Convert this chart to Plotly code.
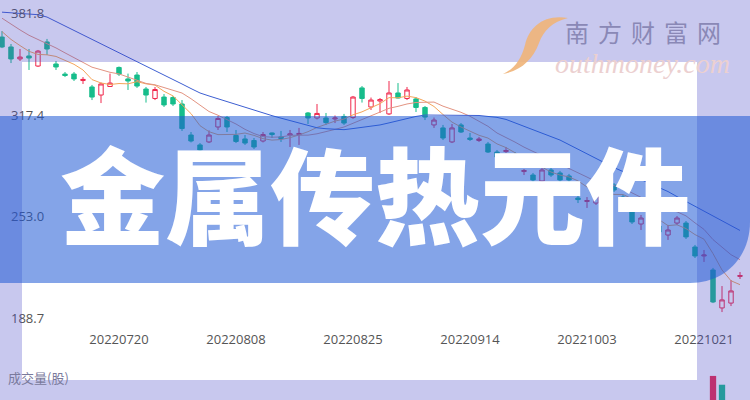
import plotly.graph_objects as go
import pandas as pd

# ---------------- data ----------------
dates = [
    "20220701", "20220704", "20220705", "20220706", "20220707", "20220708",
    "20220711", "20220712", "20220713", "20220714", "20220715", "20220718",
    "20220719", "20220720", "20220721", "20220722", "20220725", "20220726",
    "20220727", "20220728", "20220729", "20220801", "20220802", "20220803",
    "20220804", "20220805", "20220808", "20220809", "20220810", "20220811",
    "20220812", "20220815", "20220816", "20220817", "20220818", "20220819",
    "20220822", "20220823", "20220824", "20220825", "20220826", "20220829",
    "20220830", "20220831", "20220901", "20220902", "20220905", "20220906",
    "20220907", "20220908", "20220909", "20220913", "20220914", "20220915",
    "20220916", "20220919", "20220920", "20220921", "20220922", "20220923",
    "20220926", "20220927", "20220928", "20220929", "20220930", "20221003",
    "20221004", "20221005", "20221006", "20221010", "20221011", "20221012",
    "20221013", "20221014", "20221017", "20221018", "20221019", "20221020",
    "20221021", "20221024", "20221025", "20221026", "20221027",
]

open_ = [367.1, 360.8, 353.2, 355.1, 348.7, 364.0, 350.0, 343.6, 343.6, 339.5,
         335.4, 330.3, 335.7, 347.8, 340.5, 343.0, 334.1, 328.1, 329.0, 328.7,
         324.6, 304.9, 298.6, 300.5, 310.0, 316.0, 304.6, 302.4, 301.4, 301.1,
         306.2, 303.7, 304.9, 305.2, 318.9, 315.7, 315.7, 315.1, 316.7, 316.0,
         334.8, 322.7, 326.5, 318.3, 331.6, 328.1, 327.8, 322.4, 311.3, 309.4,
         300.5, 311.3, 303.0, 301.4, 299.2, 294.1, 294.4, 292.2, 281.7, 279.5,
         275.7, 282.7, 280.8, 278.9, 264.9, 262.7, 261.7, 266.8, 273.2, 265.5,
         261.7, 248.4, 250.3, 247.1, 241.4, 249.0, 249.0, 233.8, 228.1, 219.2,
         195.1, 198.2, 215.1]
high = [370.9, 362.7, 359.5, 359.5, 358.9, 365.9, 351.9, 344.9, 344.9, 341.7,
        336.7, 338.2, 343.9, 348.4, 343.9, 344.9, 335.4, 335.4, 330.9, 329.7,
        327.1, 306.8, 299.8, 307.8, 317.0, 317.0, 308.1, 304.9, 303.0, 306.8,
        306.5, 307.5, 308.1, 309.4, 319.5, 324.6, 318.9, 317.3, 318.3, 329.7,
        336.0, 328.7, 328.4, 339.2, 337.9, 335.4, 329.0, 323.3, 316.0, 311.3,
        311.9, 312.5, 306.2, 303.7, 300.5, 295.4, 297.3, 294.1, 283.3, 280.8,
        283.9, 283.9, 282.1, 280.2, 266.8, 265.5, 267.4, 273.8, 274.4, 266.8,
        263.0, 254.1, 251.6, 248.4, 247.8, 253.5, 250.3, 235.1, 231.9, 220.5,
        209.0, 212.8, 217.9]
low = [360.1, 350.6, 351.9, 346.2, 348.1, 355.7, 346.2, 341.7, 339.2, 337.3,
       327.1, 325.2, 335.4, 342.4, 333.5, 334.8, 325.5, 327.1, 322.7, 323.3,
       307.5, 300.2, 294.1, 299.8, 308.1, 306.8, 299.8, 298.6, 296.0, 300.2,
       303.0, 300.5, 297.3, 298.6, 311.9, 314.8, 311.3, 312.5, 311.3, 315.1,
       325.5, 320.8, 318.9, 317.6, 328.1, 327.1, 319.5, 314.4, 309.4, 301.7,
       299.8, 306.2, 301.1, 300.5, 293.5, 289.0, 293.5, 284.6, 279.5, 275.1,
       274.4, 278.3, 275.1, 274.4, 261.7, 258.6, 260.5, 265.5, 268.7, 262.4,
       248.4, 244.6, 245.9, 242.0, 238.3, 247.8, 238.9, 226.8, 224.3, 198.2,
       192.5, 196.3, 213.5]
close = [360.8, 353.2, 354.4, 353.8, 358.2, 359.5, 348.1, 342.7, 340.5, 340.2,
         329.0, 337.3, 337.9, 343.6, 339.2, 336.0, 330.3, 333.8, 324.0, 324.6,
         309.0, 301.1, 295.4, 304.9, 315.4, 310.0, 300.8, 299.8, 297.3, 305.2,
         305.2, 302.7, 305.6, 305.9, 315.7, 318.6, 312.8, 315.7, 312.5, 329.0,
         328.1, 327.1, 327.4, 331.6, 328.4, 333.5, 322.4, 316.3, 314.4, 303.0,
         309.4, 306.8, 302.1, 302.4, 294.1, 290.9, 295.1, 285.9, 282.4, 276.4,
         282.7, 279.5, 276.4, 276.4, 263.9, 263.3, 266.2, 272.5, 270.0, 263.7,
         249.7, 252.2, 247.1, 243.3, 244.6, 252.2, 240.2, 228.1, 228.7, 198.9,
         200.2, 205.9, 215.7]

# closes before the visible window (only feed the moving averages)
prior_close = [392.0, 390.0, 388.0, 385.0, 383.0, 378.0, 374.0, 372.0, 368.0]

# long moving average (blue line)
ma_long = [382.9, 382.5, 382.1, 381.7, 381.3, 379.8, 377.0, 374.1, 371.3, 368.4,
           365.5, 362.7, 359.8, 357.0, 354.1, 351.3, 348.5, 345.7, 342.9, 340.1,
           337.3, 334.4, 331.6, 329.7, 327.9, 326.1, 324.2, 322.4, 320.5, 318.7,
           317.2, 315.6, 314.1, 312.6, 311.1, 309.5, 308.9, 308.5, 308.3, 309.0,
           309.7, 310.5, 311.3, 312.6, 314.0, 315.3, 316.7, 317.6, 317.6, 317.6,
           317.6, 317.6, 317.6, 317.3, 316.7, 316.1, 314.8, 312.6, 310.4, 308.2,
           306.1, 303.9, 301.7, 298.8, 295.8, 292.9, 289.8, 286.8, 284.2, 281.7,
           279.2, 276.7, 274.2, 271.6, 269.0, 265.8, 262.8, 259.7, 256.7, 253.6,
           250.4, 247.4, 244.3]

volume = [420000, 380000, 300000, 350000, 410000, 360000, 330000, 260000, 290000, 240000,
          380000, 400000, 310000, 350000, 270000, 330000, 360000, 300000, 320000, 280000,
          610000, 520000, 450000, 380000, 430000, 400000, 340000, 300000, 330000, 310000,
          250000, 260000, 290000, 270000, 480000, 390000, 330000, 260000, 310000, 560000,
          500000, 420000, 360000, 590000, 470000, 400000, 380000, 420000, 300000, 440000,
          460000, 350000, 280000, 300000, 430000, 380000, 260000, 400000, 300000, 320000,
          340000, 330000, 360000, 310000, 450000, 330000, 300000, 350000, 370000, 320000,
          420000, 380000, 340000, 330000, 360000, 350000, 470000, 560000, 400000, 960000,
          870000, 650000, 420000]
volume_rise = [0, 0, 1, 0, 1, 0, 0, 0, 0, 1, 0, 1, 1, 0, 0, 0, 0, 1, 0, 0,
               0, 0, 0, 1, 1, 0, 0, 0, 0, 1, 0, 0, 1, 1, 0, 1, 0, 1, 0, 1,
               0, 1, 1, 1, 0, 1, 0, 0, 1, 0, 1, 0, 0, 1, 0, 0, 1, 0, 1, 0,
               1, 0, 0, 0, 0, 1, 1, 1, 0, 0, 0, 1, 0, 0, 1, 1, 0, 0, 1, 1,
               0, 1, 1]

tick_labels = ["20220720", "20220808", "20220825", "20220914", "20221003", "20221021"]
price_ticks = [188.7, 253.0, 317.4, 381.8]
title_text = "金属传热元件"
logo_cn = "南方财富网"
logo_en = "outhmoney.com"
volume_label = "成交量(股)"

# ---------------- derived ----------------
s = pd.Series(prior_close + close)
n0 = len(prior_close)
ma5 = s.rolling(5).mean().iloc[n0:].round(2).tolist()
ma10 = s.rolling(10).mean().iloc[n0:].round(2).tolist()

RED = "#f0284c"
GREEN = "#17bd8b"
vol_colors = [RED if r else GREEN for r in volume_rise]

W, H = 750, 400


def px(x):
    return x / W


def py(y):
    return 1 - y / H


fig = go.Figure()
fig.add_trace(go.Candlestick(
    x=dates, open=open_, high=high, low=low, close=close,
    increasing=dict(line=dict(color=RED, width=1), fillcolor="rgba(255,255,255,0)"),
    decreasing=dict(line=dict(color=GREEN, width=1), fillcolor=GREEN),
    whiskerwidth=0, showlegend=False, hoverinfo="skip", xaxis="x", yaxis="y"))
fig.add_trace(go.Scatter(x=dates, y=ma5, mode="lines", line=dict(color="#f5a55a", width=1),
                         showlegend=False, hoverinfo="skip", xaxis="x", yaxis="y"))
fig.add_trace(go.Scatter(x=dates, y=ma10, mode="lines", line=dict(color="#e39482", width=1),
                         showlegend=False, hoverinfo="skip", xaxis="x", yaxis="y"))
fig.add_trace(go.Scatter(x=dates, y=ma_long, mode="lines", line=dict(color="#3d5fd2", width=1),
                         showlegend=False, hoverinfo="skip", xaxis="x", yaxis="y"))
fig.add_trace(go.Bar(x=dates, y=volume, marker=dict(color=vol_colors, line=dict(width=0)),
                     width=0.7, showlegend=False, hoverinfo="skip", xaxis="x2", yaxis="y2"))

tick_font = dict(family="Open Sans, Noto Sans", size=13, color="#555555")
fig.update_layout(
    width=W, height=H, margin=dict(l=0, r=0, t=0, b=0),
    paper_bgcolor="white", plot_bgcolor="white",
    xaxis=dict(domain=[0, 1], type="category", range=[-0.222, 83.11], anchor="y",
               tickmode="array", tickvals=tick_labels, ticktext=tick_labels,
               showgrid=False, zeroline=False, showline=False, ticks="",
               tickfont=tick_font, rangeslider=dict(visible=False)),
    xaxis2=dict(domain=[0, 1], matches="x", anchor="y2", visible=False),
    yaxis=dict(domain=[70 / H, 1], range=[181.1, 390.63], anchor="x",
               tickmode="array", tickvals=price_ticks,
               ticktext=[f"{v:.1f}" for v in price_ticks],
               ticklabelposition="inside", ticklabelstandoff=8,
               showgrid=False, zeroline=False, showline=False, ticks="",
               tickfont=tick_font),
    yaxis2=dict(domain=[0, 28 / H], range=[714000, 1000000], anchor="x2", visible=False),
    bargap=0.3,
)

shapes = []
lav = dict(type="rect", xref="paper", yref="paper", fillcolor="rgb(72,72,200)",
           opacity=0.3, line=dict(width=0), layer="above")
for (x0, y0, x1, y1) in [(0, 0, 750, 62), (0, 380, 750, 400), (0, 62, 22, 380), (697, 62, 750, 380)]:
    shapes.append(dict(lav, x0=px(x0), x1=px(x1), y0=py(y1), y1=py(y0)))
band_path = (f"M {px(0)},{py(116)} L {px(750)},{py(116)} L {px(750)},{py(222)} "
             f"C {px(750)},{py(257)} {px(725)},{py(283)} {px(690)},{py(283)} "
             f"L {px(0)},{py(283)} Z")
shapes.append(dict(type="path", path=band_path, xref="paper", yref="paper",
                   fillcolor="rgb(31,90,213)", opacity=0.55, line=dict(width=0), layer="above"))


def pt(x, y):
    return f"{px(x):.5f},{py(y):.5f}"


# orange "S" swoosh of the logo
s_path = (f"M {pt(568, 18)} C {pt(544, 14)} {pt(529, 27)} {pt(525, 45)} "
          f"C {pt(521, 60)} {pt(514, 69)} {pt(503, 74)} "
          f"C {pt(520, 71)} {pt(533, 60)} {pt(539, 43)} "
          f"C {pt(544, 30)} {pt(552, 22)} {pt(568, 18)} Z")
shapes.append(dict(type="path", path=s_path, xref="paper", yref="paper",
                   fillcolor="#f0b478", opacity=0.9, line=dict(width=0), layer="above"))
fig.update_layout(shapes=shapes)

logo_text = (f'<span style="font-family:Noto Sans CJK SC;font-size:24px;letter-spacing:9px;'
             f'color:#8a88b6">{logo_cn}</span><br>'
             f'<i><span style="font-family:Liberation Serif;font-size:28px;color:#ecd0d0">'
             f'{logo_en}</span></i>')

ann = []
ann.append(dict(text=title_text, x=0.5, y=py(190), xref="paper", yref="paper",
                xanchor="center", yanchor="middle", showarrow=False,
                font=dict(family="Noto Sans CJK SC", size=105, color="white", weight=900)))
ann.append(dict(text=logo_text, x=px(732), y=py(46), xref="paper", yref="paper",
                xanchor="right", yanchor="middle", align="right", showarrow=False,
                font=dict(family="Liberation Serif", size=24, color="#8a88b6")))
ann.append(dict(text=volume_label, x=px(6), y=py(377), xref="paper", yref="paper",
                xanchor="left", yanchor="middle", showarrow=False,
                font=dict(family="Noto Sans CJK SC", size=13, color="#7a7a9c")))
fig.update_layout(annotations=ann)

fig.write_html("out.html", config={"displayModeBar": False},
               post_script="document.body.style.margin='0';document.body.style.padding='0';")
